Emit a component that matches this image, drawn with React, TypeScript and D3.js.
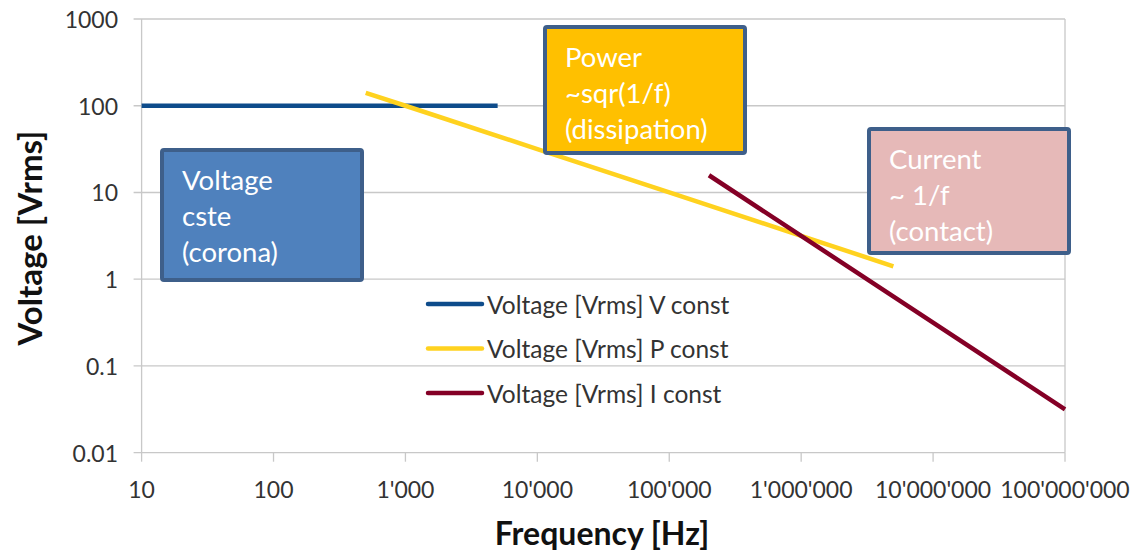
import React from "react";
import * as d3 from "d3";

const W = 1139;
const H = 553;

// x tick values and labels
const xTicks = [10, 100, 1000, 10000, 100000, 1000000, 10000000, 100000000];
const xTickLabels = ["10", "100", "1'000", "10'000", "100'000", "1'000'000", "10'000'000", "100'000'000"];
const yTicks = [0.01, 0.1, 1, 10, 100, 1000];
const yTickLabels = ["0.01", "0.1", "1", "10", "100", "1000"];

// series
const vConstF = [10, 5000];
const vConstV = [100, 100];
const pConstF = [500, 1000, 10000, 100000, 1000000, 5000000];
const pConstV = [141, 100, 31.6, 10, 3.16, 1.41];
const iConstF = [200000, 1000000, 10000000, 100000000];
const iConstV = [15.8, 3.16, 0.316, 0.0316];

const seriesNames = ["Voltage [Vrms] V const", "Voltage [Vrms] P const", "Voltage [Vrms] I const"];
const seriesColors = ["#0E4C8B", "#FFD21F", "#840026"];

const boxTexts = [
  ["Voltage", "cste", "(corona)"],
  ["Power", "~sqr(1/f)", "(dissipation)"],
  ["Current", "~ 1/f", "(contact)"],
];
const boxFills = ["#4F81BD", "#FFC000", "#E6B9B8"];

const FONT = "Lato, 'Open Sans', sans-serif";

export default function App() {
  const left = 141.6, right = 1065, top = 19, bottom = 452.7;
  const x = d3.scaleLog().domain([10, 1e8]).range([left, right]);
  const y = d3.scaleLog().domain([0.01, 1000]).range([bottom, top]);
  const line = d3.line<[number, number]>().x((d) => x(d[0])).y((d) => y(d[1]));
  const series = [
    d3.zip(vConstF, vConstV) as [number, number][],
    d3.zip(pConstF, pConstV) as [number, number][],
    d3.zip(iConstF, iConstV) as [number, number][],
  ];
  // annotation shapes (pixel layout)
  const boxes = [
    { x: 162, y: 150, w: 200, h: 130 },
    { x: 545, y: 27, w: 200, h: 126 },
    { x: 869, y: 129, w: 200, h: 124 },
  ];
  const gridColor = "#C8C8C8";
  return (
    <svg width={W} height={H} style={{ position: "absolute", left: 0, top: 0, background: "#fff" }}>
      {yTicks.map((t) => (
        <line key={"g" + t} x1={left - 8} x2={right} y1={y(t)} y2={y(t)} stroke={gridColor} strokeWidth={1.3} />
      ))}
      <line x1={left} x2={left} y1={top} y2={bottom} stroke={gridColor} strokeWidth={1.3} />
      <line x1={right} x2={right} y1={top} y2={bottom} stroke={gridColor} strokeWidth={1.3} />
      {xTicks.map((t) => (
        <line key={"xt" + t} x1={x(t)} x2={x(t)} y1={bottom} y2={bottom + 9} stroke={gridColor} strokeWidth={1.3} />
      ))}
      {yTicks.map((t, i) => (
        <text key={"yl" + t} x={118} y={y(t)} textAnchor="end" dominantBaseline="central" fontFamily={FONT} fontSize={23} fill="#333">
          {yTickLabels[i]}
        </text>
      ))}
      {xTicks.map((t, i) => (
        <text key={"xl" + t} x={x(t)} y={489} textAnchor="middle" dominantBaseline="central" fontFamily={FONT} fontSize={23} fill="#333">
          {xTickLabels[i]}
        </text>
      ))}
      {series.map((s, i) => (
        <path key={"s" + i} d={line(s) || ""} fill="none" stroke={seriesColors[i]} strokeWidth={4.5} />
      ))}
      {boxes.map((b, i) => (
        <g key={"b" + i}>
          <rect x={b.x} y={b.y} width={b.w} height={b.h} fill={boxFills[i]} stroke="#3E5F8A" strokeWidth={4} rx={2} />
          {boxTexts[i].map((t, j) => (
            <text key={j} x={b.x + 20} y={b.y + 29 + j * 36} dominantBaseline="central" fontFamily={FONT} fontSize={27.5} fill="#fff">
              {t}
            </text>
          ))}
        </g>
      ))}
      {seriesNames.map((n, i) => (
        <g key={"l" + i}>
          <line x1={428} x2={482} y1={304 + i * 44.5} y2={304 + i * 44.5} stroke={seriesColors[i]} strokeWidth={4.5} strokeLinecap="round" />
          <text x={487} y={304 + i * 44.5} dominantBaseline="central" fontFamily={FONT} fontSize={24.5} fill="#333">
            {n}
          </text>
        </g>
      ))}
      <text x={602} y={545} textAnchor="middle" fontFamily={FONT} fontWeight="bold" fontSize={32} fill="#111">
        Frequency [Hz]
      </text>
      <text transform={`translate(29,238) rotate(-90)`} textAnchor="middle" dominantBaseline="central" fontFamily={FONT} fontWeight="bold" fontSize={33} fill="#111">
        Voltage [Vrms]
      </text>
    </svg>
  );
}
